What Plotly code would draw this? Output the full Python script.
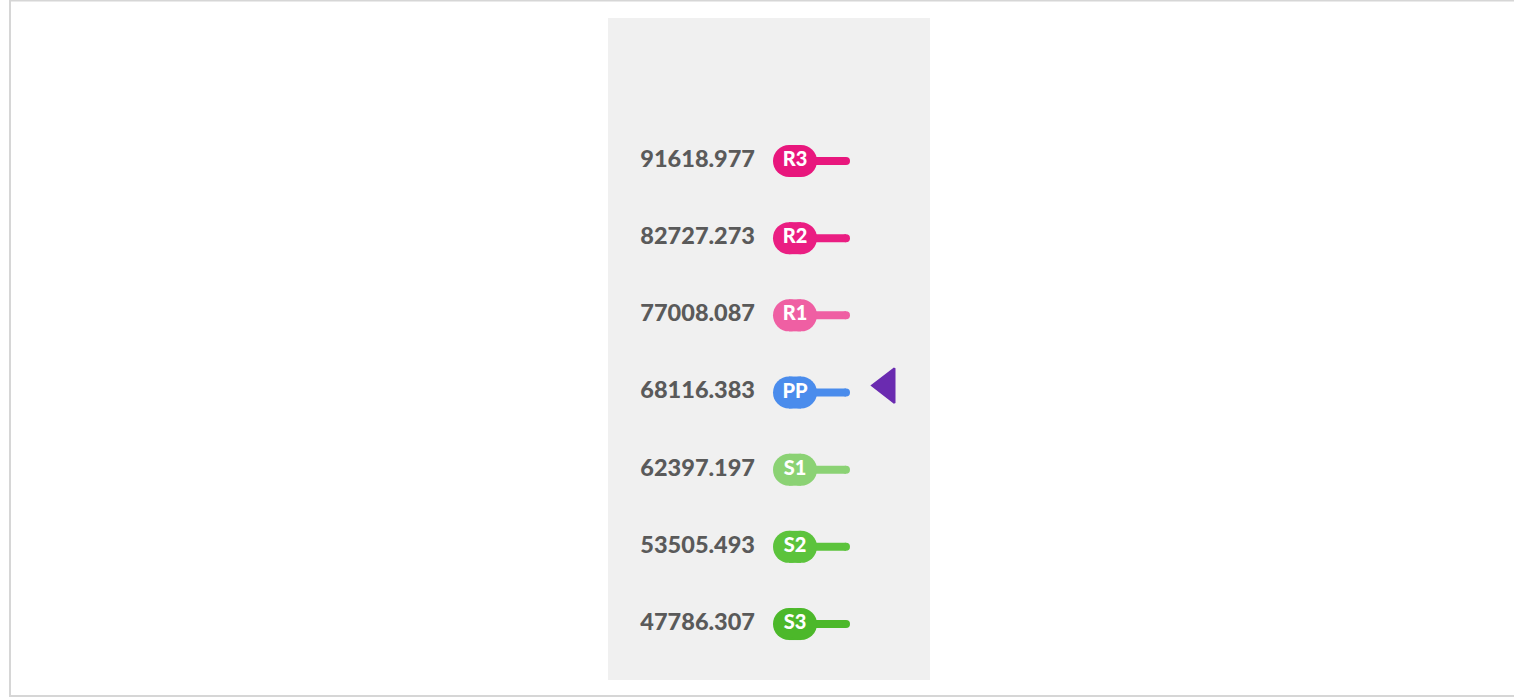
import plotly.graph_objects as go

# ---- data ----
levels = ["S3", "S2", "S1", "PP", "R1", "R2", "R3"]
values = [47786.307, 53505.493, 62397.197, 68116.383, 77008.087, 82727.273, 91618.977]
colors = ["#4cb82a", "#5cc33c", "#8bd274", "#4a8cec", "#ef5fa3", "#ea1e82", "#e8177d"]
pointer_row = 3.09          # current-price pointer (slightly above PP)
pointer_color = "#6a2bb0"

rows = list(range(len(levels)))

# x positions (axis units)
X_LABEL = 147
X_PILL = 187
PILL_HALF = 6
X_STUB0, X_STUB1 = 205, 238
X_PTR = 279

fig = go.Figure()

# value labels
fig.add_trace(go.Scatter(
    x=[X_LABEL] * len(rows), y=rows, mode="text",
    text=[f"{v:.3f}" for v in values], textposition="middle left",
    textfont=dict(family="Lato Heavy, Lato Black, Lato", size=23.5, color="#5a5a5a", weight="bold"),
    hoverinfo="skip", showlegend=False))

for r, lvl, c in zip(rows, levels, colors):
    # stub
    fig.add_trace(go.Scatter(
        x=[X_STUB0, X_STUB1], y=[r, r], mode="lines",
        line=dict(color=c, width=8), hoverinfo="skip", showlegend=False))
    fig.add_trace(go.Scatter(
        x=[X_STUB1], y=[r], mode="markers",
        marker=dict(symbol="circle", size=8, color=c, line=dict(width=0)),
        hoverinfo="skip", showlegend=False))
    # pill (stadium): thick segment + round ends
    fig.add_trace(go.Scatter(
        x=[X_PILL - PILL_HALF, X_PILL + PILL_HALF], y=[r, r], mode="lines+markers",
        line=dict(color=c, width=32),
        marker=dict(symbol="circle", size=32, color=c, line=dict(width=0)),
        hoverinfo="skip", showlegend=False))
    fig.add_trace(go.Scatter(
        x=[X_PILL], y=[r], mode="text",
        text=[lvl], textposition="middle center",
        textfont=dict(family="Lato Heavy, Lato Black, Lato", size=20, color="white", weight="bold"),
        hoverinfo="skip", showlegend=False))

# pointer
fig.add_trace(go.Scatter(
    x=[X_PTR], y=[pointer_row], mode="markers",
    marker=dict(symbol="triangle-left", size=30, color=pointer_color,
                line=dict(color=pointer_color, width=2)),
    hoverinfo="skip", showlegend=False))

W, H = 1514, 697
L, R, T, B = 608, 930, 18, 680
fig.update_layout(
    width=W, height=H,
    margin=dict(l=L, r=W - R, t=T, b=H - B, pad=0),
    paper_bgcolor="white", plot_bgcolor="#f0f0f0",
    xaxis=dict(range=[0, R - L], visible=False, fixedrange=True),
    yaxis=dict(range=[-0.725, 7.853], visible=False, fixedrange=True),
    showlegend=False,
    shapes=[dict(type="rect", xref="paper", yref="paper",
                 x0=(10 - L) / (R - L), x1=(1516 - L) / (R - L),
                 y0=(B - 696) / (B - T), y1=(B - 0.5) / (B - T),
                 line=dict(color="#d6d6d6", width=2), fillcolor="rgba(0,0,0,0)",
                 layer="below")],
)

fig.write_html("out.html", config={"displayModeBar": False},
               post_script="document.body.style.margin='0';")
